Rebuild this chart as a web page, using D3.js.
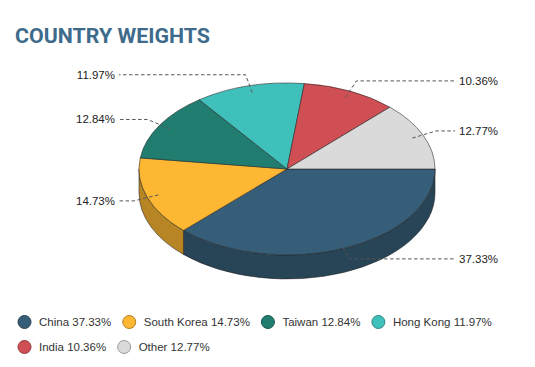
<!DOCTYPE html>
<html>
<head>
<meta charset="utf-8">
<script src="https://d3js.org/d3.v7.min.js"></script>
<style>
html, body { margin: 0; padding: 0; background: #fff; }
svg { display: block; font-family: "Liberation Sans", Arial, sans-serif; }
</style>
</head>
<body>
<script>
// chart data
var countries = ["China", "South Korea", "Taiwan", "Hong Kong", "India", "Other"];
var weights = [37.33, 14.73, 12.84, 11.97, 10.36, 12.77];
var colors = ["#375e78", "#fdb733", "#217d70", "#40c0bb", "#cf4f55", "#dadada"];

var width = 535, height = 367;
var cx = 287, cy = 169, rx = 148, ry = 86, depth = 24;

var svg = d3.select("body").append("svg")
  .attr("width", width)
  .attr("height", height);

// title
svg.append("text")
  .attr("x", 15).attr("y", 43)
  .attr("font-family", "Roboto, sans-serif")
  .attr("font-weight", "bold")
  .attr("font-size", 21)
  .attr("fill", "#3e6b8b")
  .attr("textLength", 195)
  .attr("lengthAdjust", "spacingAndGlyphs")
  .text("COUNTRY WEIGHTS");

var data = countries.map(function(c, i) { return {name: c, value: weights[i]}; });

var color = d3.scaleOrdinal().domain(countries).range(colors);

// start at 3 o'clock, go clockwise
var pie = d3.pie()
  .sort(null)
  .value(function(d) { return d.value; })
  .startAngle(Math.PI / 2)
  .endAngle(Math.PI / 2 + 2 * Math.PI);

var arcs = pie(data);

function px(a, k) { return cx + rx * (k || 1) * Math.sin(a); }
function py(a, k, dy) { return cy - ry * (k || 1) * Math.cos(a) + (dy || 0); }

function topPath(d) {
  var large = (d.endAngle - d.startAngle) > Math.PI ? 1 : 0;
  return "M" + cx + "," + cy +
    "L" + px(d.startAngle) + "," + py(d.startAngle) +
    "A" + rx + "," + ry + " 0 " + large + " 1 " + px(d.endAngle) + "," + py(d.endAngle) + "Z";
}

// front side only visible between pi/2 and 3pi/2
function sidePath(d) {
  var a0 = Math.max(d.startAngle, Math.PI / 2), a1 = Math.min(d.endAngle, 3 * Math.PI / 2);
  if (a1 <= a0) return null;
  var large = (a1 - a0) > Math.PI ? 1 : 0;
  return "M" + px(a0) + "," + py(a0) +
    "A" + rx + "," + ry + " 0 " + large + " 1 " + px(a1) + "," + py(a1) +
    "L" + px(a1) + "," + py(a1, 1, depth) +
    "A" + rx + "," + ry + " 0 " + large + " 0 " + px(a0) + "," + py(a0, 1, depth) + "Z";
}

var chart = svg.append("g");

chart.selectAll("path.side")
  .data(arcs.filter(function(d) { return sidePath(d); }))
  .enter().append("path")
  .attr("class", "side")
  .attr("d", sidePath)
  .attr("fill", function(d) { return d3.color(color(d.data.name)).darker(0.9); })
  .attr("stroke", "#222")
  .attr("stroke-opacity", 0.7)
  .attr("stroke-width", 0.8);

chart.selectAll("path.top")
  .data(arcs)
  .enter().append("path")
  .attr("class", "top")
  .attr("d", topPath)
  .attr("fill", function(d) { return color(d.data.name); })
  .attr("stroke", "#222")
  .attr("stroke-opacity", 0.7)
  .attr("stroke-width", 0.8)
  .attr("stroke-linejoin", "round");

// data labels with connectors
var labels = svg.append("g");
arcs.forEach(function(d) {
  var a = (d.startAngle + d.endAngle) / 2;
  var right = Math.sin(a) > 0;
  var ly = cy - (ry + 11.5) * Math.cos(a);
  var ax = px(a, 0.92), ay = py(a, 0.92);
  var bx = cx + (rx + 14) * Math.sin(a);
  var ex = right ? cx + 168 : cx - 168;
  labels.append("path")
    .attr("d", "M" + ax + "," + ay + "L" + bx + "," + ly + "L" + ex + "," + ly)
    .attr("fill", "none")
    .attr("stroke", "#555")
    .attr("stroke-width", 1)
    .attr("stroke-dasharray", "3.5,2.5");
  labels.append("text")
    .attr("x", right ? cx + 172 : cx - 172)
    .attr("y", ly)
    .attr("dy", "0.35em")
    .attr("text-anchor", right ? "start" : "end")
    .attr("font-size", 11.5)
    .attr("fill", "#222")
    .text(d.data.value.toFixed(2) + "%");
});

// legend
var legend = svg.append("g");
var lx = 24.5, ly0 = 322, rowH = 25, maxX = 515;
data.forEach(function(d) {
  var item = legend.append("g");
  item.append("circle")
    .attr("cx", 0).attr("cy", 0).attr("r", 6.5)
    .attr("fill", color(d.name))
    .attr("stroke", d3.color(color(d.name)).darker(1))
    .attr("stroke-width", 1);
  var t = item.append("text")
    .attr("x", 14.5).attr("dy", "0.35em")
    .attr("font-size", 11.5)
    .attr("fill", "#333")
    .text(d.name + " " + d.value.toFixed(2) + "%");
  var w = 14.5 + t.node().getComputedTextLength();
  if (lx + w > maxX) { lx = 24.5; ly0 += rowH; }
  item.attr("transform", "translate(" + lx + "," + ly0 + ")");
  lx += w + 18;
});
</script>
</body>
</html>
